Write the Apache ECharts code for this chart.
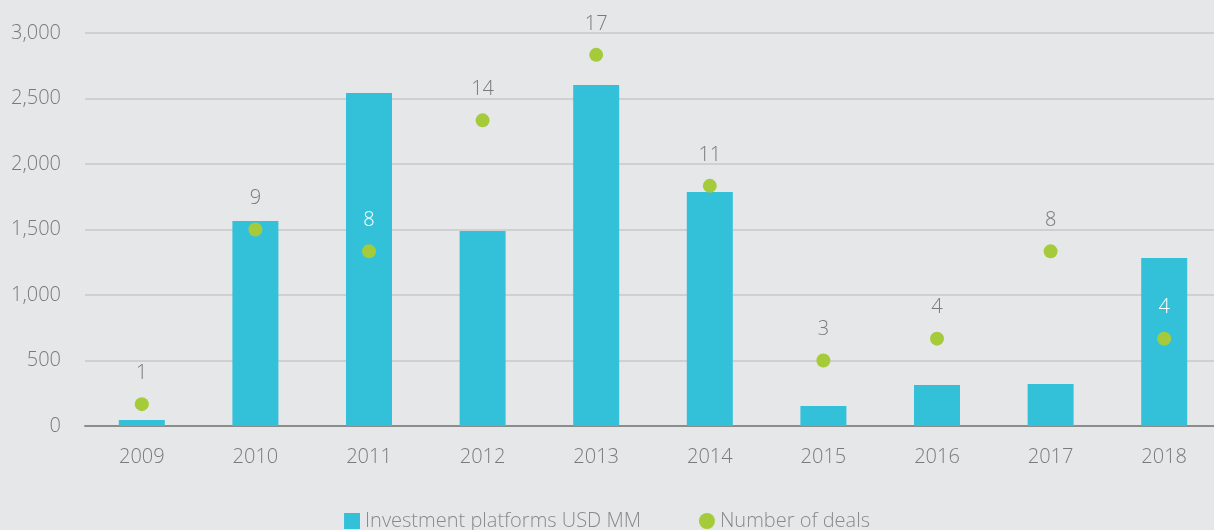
<!DOCTYPE html>
<html>
<head>
<meta charset="utf-8">
<script src="https://cdn.jsdelivr.net/npm/echarts@6/dist/echarts.min.js"></script>
<style>
  html, body { margin: 0; padding: 0; background: #e6e7e9; }
  #chart { width: 1214px; height: 530px; }
</style>
</head>
<body>
<div id="chart"></div>
<script>
// Years on the category axis
const years = ['2009', '2010', '2011', '2012', '2013', '2014', '2015', '2016', '2017', '2018'];
// Investment platforms, USD MM
const investment = [45, 1565, 2542, 1489, 2603, 1786, 153, 313, 321, 1282];
// Number of deals per year
const deals = [1, 9, 8, 14, 17, 11, 3, 4, 8, 4];
// Years whose deal label sits on top of a bar (drawn in white)
const labelOnBar = ['2011', '2018'];

const chart = echarts.init(document.getElementById('chart'), null, { renderer: 'canvas' });
const font = '"Open Sans", Lato, sans-serif';

chart.setOption({
  backgroundColor: '#e6e7e9',
  textStyle: { fontFamily: font },
  grid: { left: 85, width: 1136, top: 33, bottom: 104, containLabel: false, outerBoundsMode: 'none' },
  legend: {
    bottom: -6,
    left: 'center',
    itemGap: 58,
    itemWidth: 16,
    itemHeight: 16,
    textStyle: { color: '#8a8a8a', fontSize: 20, fontFamily: font, fontWeight: 300 },
    data: [
      { name: 'Investment platforms USD MM', icon: 'rect' },
      { name: 'Number of deals', icon: 'circle' }
    ]
  },
  xAxis: {
    type: 'category',
    data: years,
    axisLine: { lineStyle: { color: '#8c8c8c', width: 2 } },
    axisTick: { show: false },
    axisLabel: { color: '#7a7a7a', fontSize: 20, margin: 21, fontFamily: font, fontWeight: 300 }
  },
  yAxis: [
    {
      type: 'value',
      min: 0, max: 3000, interval: 500,
      axisLine: { show: false },
      axisTick: { show: false },
      splitLine: { lineStyle: { color: '#c9c9cb', width: 1.5 } },
      axisLabel: {
        color: '#7a7a7a', fontSize: 20, margin: 24, fontFamily: font, fontWeight: 300,
        formatter: v => v.toLocaleString('en-US')
      }
    },
    {
      type: 'value',
      min: 0, max: 18,
      show: false,
      splitLine: { show: false }
    }
  ],
  series: [
    {
      name: 'Investment platforms USD MM',
      type: 'bar',
      data: investment,
      barWidth: 46,
      itemStyle: { color: '#33c1d9' },
      z: 2
    },
    {
      name: 'Number of deals',
      type: 'scatter',
      yAxisIndex: 1,
      data: deals.map((v, i) => ({
        value: v,
        label: { color: labelOnBar.includes(years[i]) ? '#ffffff' : '#7a7a7a' }
      })),
      symbolSize: 14,
      itemStyle: { color: '#a5cb3a', opacity: 1 },
      label: {
        show: true,
        position: 'top',
        distance: 14,
        fontSize: 20,
        fontFamily: font,
        fontWeight: 300,
        color: '#7a7a7a'
      },
      z: 3
    }
  ]
});
</script>
</body>
</html>
